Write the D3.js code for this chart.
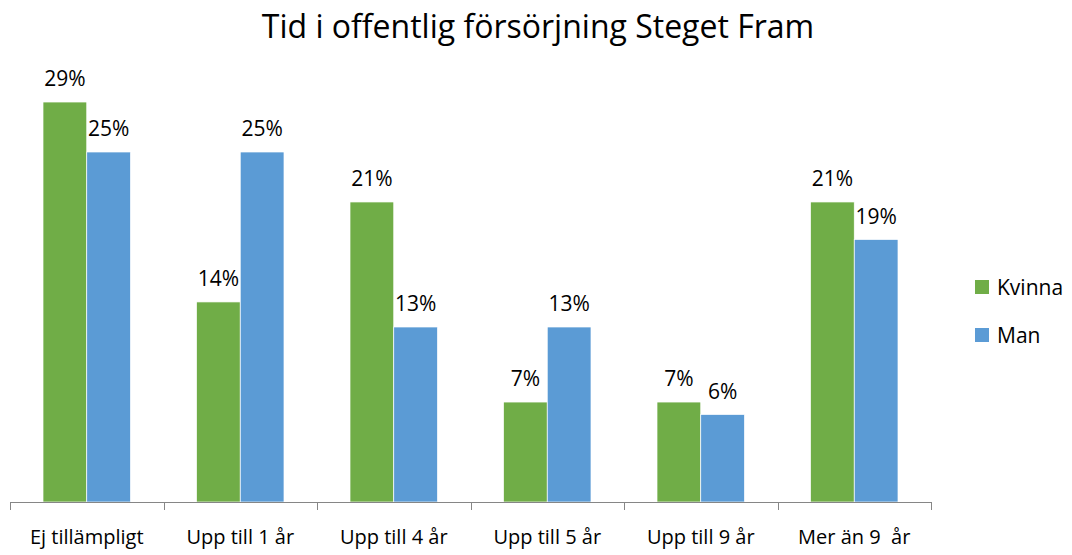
<!DOCTYPE html>
<html>
<head>
<style>
  body {
    margin: 0;
    background-color: #fff;
  }
  text {
    font-family: "Open Sans", sans-serif;
    fill: #000;
    white-space: pre;
  }
</style>
<script src="https://d3js.org/d3.v7.min.js"></script>
</head>
<body>
<script>
  const categories = ['Ej tillämpligt', 'Upp till 1 år', 'Upp till 4 år', 'Upp till 5 år', 'Upp till 9 år', 'Mer än 9  år'];
  const seriesNames = ['Kvinna', 'Man'];
  const kvinna = [0.2857, 0.1429, 0.2143, 0.0714, 0.0714, 0.2143];
  const man = [0.25, 0.25, 0.125, 0.125, 0.0625, 0.1875];

  const colors = {
    Kvinna: '#70AD47',
    Man: '#5B9BD5',
  };

  const width = 1072;
  const height = 555;
  const plot = { left: 10, right: 931, top: 82, bottom: 502 };

  const svg = d3.select('body')
    .append('svg')
    .attr('width', width)
    .attr('height', height);

  const x = d3.scaleBand()
    .domain(categories)
    .range([plot.left, plot.right])
    .paddingInner(0.43)
    .paddingOuter(0.215);

  const xSub = d3.scaleBand()
    .domain(seriesNames)
    .range([0, x.bandwidth()]);

  const y = d3.scaleLinear()
    .domain([0, 0.3])
    .range([plot.bottom, plot.top]);

  const fmt = d3.format('.0%');

  // title
  svg.append('text')
    .attr('x', 538)
    .attr('y', 38)
    .attr('text-anchor', 'middle')
    .style('font-size', '32px')
    .text('Tid i offentlig försörjning Steget Fram');

  const data = categories.map((c, i) => ({
    category: c,
    values: [
      { name: 'Kvinna', value: kvinna[i] },
      { name: 'Man', value: man[i] },
    ],
  }));

  const groups = svg.selectAll('.group')
    .data(data)
    .join('g')
    .attr('class', 'group')
    .attr('transform', d => `translate(${x(d.category)},0)`);

  groups.selectAll('rect')
    .data(d => d.values)
    .join('rect')
    .attr('x', d => xSub(d.name))
    .attr('y', d => y(d.value))
    .attr('width', xSub.bandwidth())
    .attr('height', d => plot.bottom - y(d.value))
    .attr('fill', d => colors[d.name])
    .attr('stroke', '#fff')
    .attr('stroke-width', 0.7);

  groups.selectAll('.value')
    .data(d => d.values)
    .join('text')
    .attr('class', 'value')
    .attr('x', d => xSub(d.name) + xSub.bandwidth() / 2)
    .attr('y', d => y(d.value) - 16)
    .attr('text-anchor', 'middle')
    .style('font-size', '21px')
    .text(d => fmt(d.value));

  // axis line + ticks at category edges
  const axis = svg.append('g');
  axis.append('line')
    .attr('x1', plot.left)
    .attr('x2', plot.right)
    .attr('y1', plot.bottom + 0.5)
    .attr('y2', plot.bottom + 0.5)
    .attr('stroke', '#868686')
    .attr('stroke-width', 1);

  const edges = categories.map(c => x(c) - x.step() * x.paddingOuter()).concat([plot.right]);

  axis.selectAll('.tick')
    .data(edges)
    .join('line')
    .attr('class', 'tick')
    .attr('x1', d => Math.round(d) + 0.5)
    .attr('x2', d => Math.round(d) + 0.5)
    .attr('y1', plot.bottom)
    .attr('y2', plot.bottom + 8)
    .attr('stroke', '#868686');

  axis.selectAll('.cat')
    .data(categories)
    .join('text')
    .attr('class', 'cat')
    .attr('x', d => x(d) + x.bandwidth() / 2)
    .attr('y', 544)
    .attr('text-anchor', 'middle')
    .style('font-size', '20px')
    .text(d => d);

  // legend
  const legend = svg.append('g');
  const legendY = [287, 335];
  seriesNames.forEach((name, i) => {
    legend.append('rect')
      .attr('x', 975)
      .attr('y', legendY[i] - 7)
      .attr('width', 14)
      .attr('height', 14)
      .attr('fill', colors[name]);
    legend.append('text')
      .attr('x', 997)
      .attr('y', legendY[i] + 8)
      .style('font-size', '21px')
      .text(name);
  });
</script>
</body>
</html>
